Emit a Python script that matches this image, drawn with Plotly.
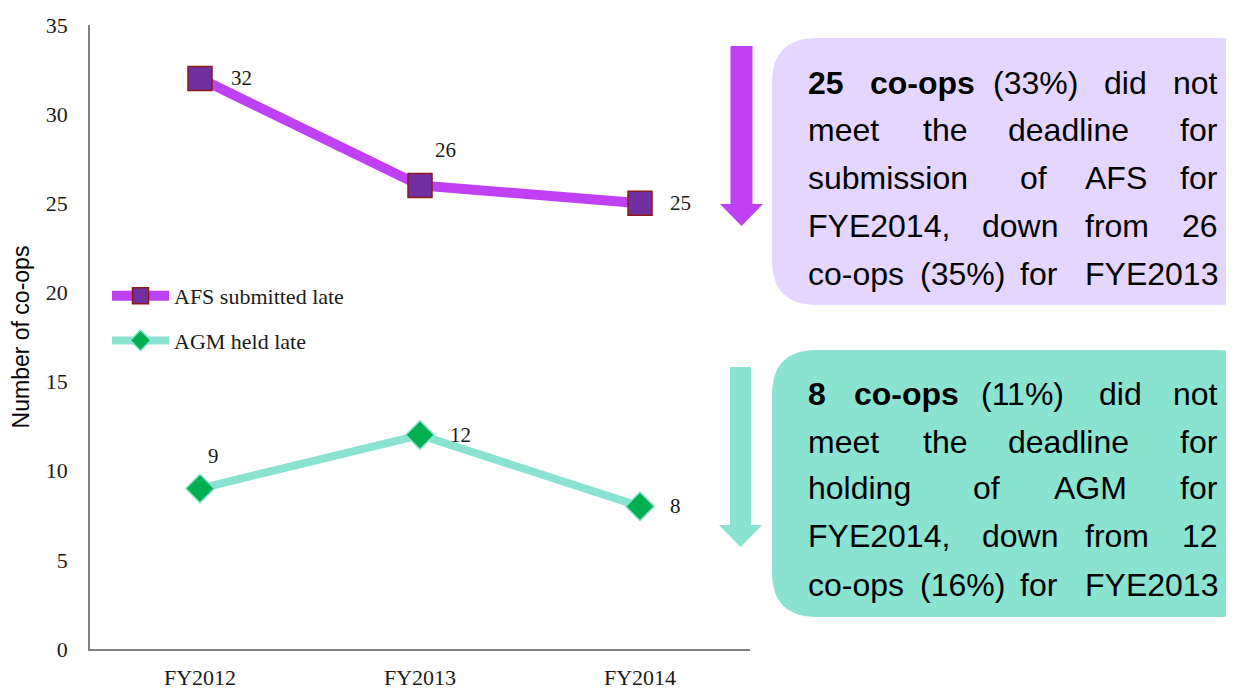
import plotly.graph_objects as go

# ---------------- data ----------------
years = ["FY2012", "FY2013", "FY2014"]
afs_late = [32, 26, 25]
agm_late = [9, 12, 8]
series_names = ["AFS submitted late", "AGM held late"]
y_ticks = [0, 5, 10, 15, 20, 25, 30, 35]

# callout text, one list of words per line
afs_lines = [
    ["<b>25</b>", "<b>co-ops</b>", "(33%)", "did", "not"],
    ["meet", "the", "deadline", "for"],
    ["submission", "of", "AFS", "for"],
    ["FYE2014,", "down", "from", "26"],
    ["co-ops", "(35%)", "for", "FYE2013"],
]
agm_lines = [
    ["<b>8</b>", "<b>co-ops</b>", "(11%)", "did", "not"],
    ["meet", "the", "deadline", "for"],
    ["holding", "of", "AGM", "for"],
    ["FYE2014,", "down", "from", "12"],
    ["co-ops", "(16%)", "for", "FYE2013"],
]

# ---------------- layout geometry (window pixels) ----------------
OX, OY = 8, 8                      # page body margin
W, H = 1234 - OX, 690 - OY         # figure size
L, R, T, B = 90, 750, 25, 649      # plot area in window pixels


def px(x):
    return (x - L) / (R - L)


def py(y):
    return (B - y) / (B - T)


PURPLE_LINE = "#BF40F5"
PURPLE_FILL = "#7030A0"
PURPLE_EDGE = "#8B1A1A"
MINT = "#8AE2D0"
GREEN = "#00B050"
PURPLE_BOX = "#E5D6FF"
SERIF = "Liberation Serif"
SANS = "Liberation Sans"

fig = go.Figure()
fig.add_trace(go.Scatter(
    x=years, y=afs_late, name=series_names[0], mode="lines+markers",
    legendgroup="a",
    line=dict(color=PURPLE_LINE, width=10),
    marker=dict(symbol="square", size=24, color=PURPLE_FILL,
                line=dict(color=PURPLE_EDGE, width=1.5)),
))
fig.add_trace(go.Scatter(
    x=years, y=agm_late, name=series_names[1], mode="lines+markers",
    legendgroup="b",
    line=dict(color=MINT, width=8),
    marker=dict(symbol="diamond", size=22, color=GREEN,
                line=dict(color=MINT, width=1.5)),
))

annotations = []
# data labels
afs_off = [(41, 0), (25, 35), (40, 0)]
agm_off = [(13, 33), (40, 0), (35, 0)]
for yr, v, (dx, dy) in zip(years, afs_late, afs_off):
    annotations.append(dict(x=yr, y=v, xref="x", yref="y", text=str(v),
                            showarrow=False, xshift=dx, yshift=dy,
                            font=dict(family=SERIF, size=21, color="#1a1a1a")))
for yr, v, (dx, dy) in zip(years, agm_late, agm_off):
    annotations.append(dict(x=yr, y=v, xref="x", yref="y", text=str(v),
                            showarrow=False, xshift=dx, yshift=dy,
                            font=dict(family=SERIF, size=21, color="#1a1a1a")))

# callout words (justified look)
afs_x = [
    [806, 868, 991, 1102, 1220],
    [806, 921, 1006, 1220],
    [806, 1018, 1083, 1220],
    [806, 980, 1083, 1220],
    [806, 918, 1018, 1220],
]
afs_y = [82.5, 130, 178, 226, 273.5]
agm_x = [
    [806, 852, 979, 1097, 1220],
    [806, 921, 1006, 1220],
    [806, 971, 1052, 1220],
    [806, 980, 1083, 1220],
    [806, 918, 1018, 1220],
]
agm_y = [393.5, 442, 488, 536, 584.5]
for lines, xs, ys in ((afs_lines, afs_x, afs_y), (agm_lines, agm_x, agm_y)):
    for words, wx, wy in zip(lines, xs, ys):
        n = len(words)
        for i, (w, x0) in enumerate(zip(words, wx)):
            annotations.append(dict(
                x=px(x0), y=py(wy), xref="paper", yref="paper", text=w,
                showarrow=False, xanchor="right" if i == n - 1 else "left",
                yanchor="middle",
                font=dict(family=SANS, size=32, color="black")))


def rounded_box(x0, y0, x1, y1, r):
    rx = r / (R - L)
    ry = r / (B - T)
    X0, X1 = px(x0), px(x1)
    Y0, Y1 = py(y0), py(y1)    # Y0 top, Y1 bottom
    return (f"M {X0+rx},{Y0} L {X1-rx},{Y0} Q {X1},{Y0} {X1},{Y0-ry} "
            f"L {X1},{Y1+ry} Q {X1},{Y1} {X1-rx},{Y1} L {X0+rx},{Y1} "
            f"Q {X0},{Y1} {X0},{Y1+ry} L {X0},{Y0-ry} Q {X0},{Y0} {X0+rx},{Y0} Z")


def arrow(xl, xr, ytop, ybase, hl, hr, ytip):
    xc = (hl + hr) / 2
    pts = [(xl, ytop), (xr, ytop), (xr, ybase), (hr, ybase), (xc, ytip),
           (hl, ybase), (xl, ybase)]
    return "M " + " L ".join(f"{px(a)},{py(b)}" for a, b in pts) + " Z"


shapes = [
    dict(type="path", xref="paper", yref="paper",
         path=rounded_box(772, 38, 1262, 305, 45),
         fillcolor=PURPLE_BOX, line=dict(width=0), layer="below"),
    dict(type="path", xref="paper", yref="paper",
         path=rounded_box(772, 350, 1262, 617, 45),
         fillcolor=MINT, line=dict(width=0), layer="below"),
    dict(type="path", xref="paper", yref="paper",
         path=arrow(730.5, 752.5, 46, 204, 720, 763, 226),
         fillcolor=PURPLE_LINE, line=dict(width=0)),
    dict(type="path", xref="paper", yref="paper",
         path=arrow(730, 751, 367, 525, 719, 762, 547),
         fillcolor=MINT, line=dict(width=0)),
]

fig.update_layout(
    width=W, height=H,
    margin=dict(l=L - OX, r=(OX + W) - R, t=T - OY, b=(OY + H) - B, pad=0,
                autoexpand=False),
    paper_bgcolor="white", plot_bgcolor="white",
    showlegend=True,
    legend=dict(x=px(107), y=py(275), xanchor="left", yanchor="top",
                bgcolor="rgba(0,0,0,0)", itemwidth=57, tracegroupgap=13,
                font=dict(family=SERIF, size=22, color="#1a1a1a")),
    annotations=annotations,
    shapes=shapes,
    xaxis=dict(type="category", range=[-0.5, 2.5], showline=True,
               linecolor="#808080", linewidth=1.5, showgrid=False,
               zeroline=False, ticks="", ticklabelstandoff=8,
               automargin=False,
               tickfont=dict(family=SERIF, size=22, color="#1a1a1a"),
               fixedrange=True),
    yaxis=dict(range=[0, 35], tickvals=y_ticks, showline=True,
               linecolor="#808080", linewidth=1.5, showgrid=False,
               zeroline=False, ticks="", ticklabelstandoff=16,
               automargin=False,
               tickfont=dict(family=SERIF, size=22, color="#1a1a1a"),
               title=dict(text="Number of co-ops", standoff=14,
                          font=dict(family=SANS, size=23, color="black")),
               fixedrange=True),
)

fig.write_html("out.html")
